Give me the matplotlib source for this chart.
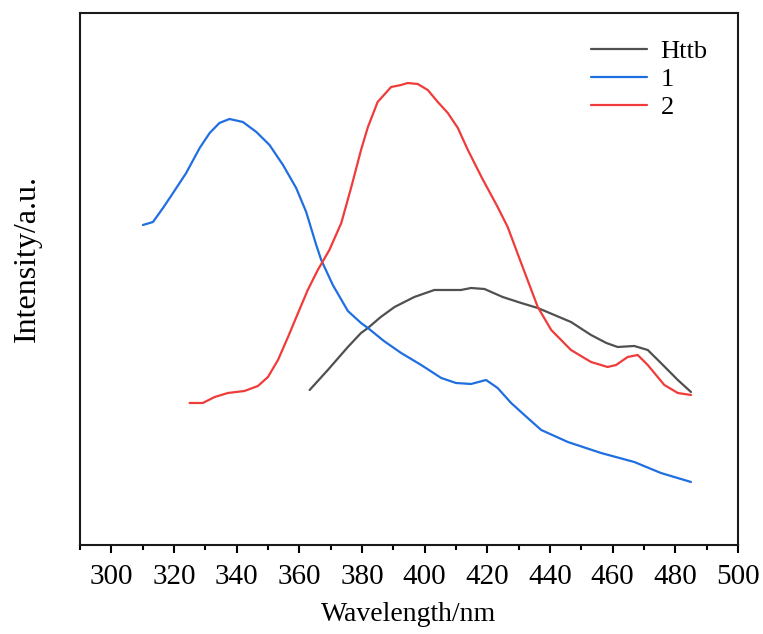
import matplotlib
matplotlib.use("Agg")
import matplotlib.pyplot as plt
from matplotlib.ticker import MultipleLocator

# Emission spectra (intensity in arbitrary units)
httb_x = [363.3, 369.1, 375.5, 379.7, 381.9, 386.0, 390.4, 396.7, 403.1, 411.6,
          414.8, 419.1, 424.9, 430.8, 436.1, 441.4, 446.7, 453.1, 458.0, 461.6,
          466.9, 471.2, 475.4, 480.8, 485.0]
httb_y = [155, 175, 198, 212, 217, 228, 238, 248, 255, 255,
          257, 256, 248, 242, 237, 230, 223, 210, 202, 198,
          199, 195, 182, 165, 153]

c1_x = [310.1, 313.3, 316.5, 319.7, 323.9, 328.2, 331.4, 334.5, 337.7, 342.0,
        346.3, 350.5, 354.8, 359.0, 362.2, 365.4, 367.0, 370.7, 375.5,
        379.7, 381.9, 387.0, 392.5, 398.9, 405.3, 410.0, 414.8, 419.6, 423.3,
        427.6, 432.9, 437.2, 445.7, 456.3, 466.9, 475.4, 485.0]
c1_y = [320, 323, 337, 352, 372, 397, 412, 422, 426, 423,
        413, 400, 380, 357, 333, 300, 285, 260, 234,
        222, 217, 204, 192, 180, 167, 162, 161, 165, 157,
        142, 127, 115, 103, 92, 83, 72, 63]

c2_x = [325.0, 329.2, 333.0, 337.2, 342.5, 346.8, 350.0, 353.2, 356.4, 359.6,
        362.7, 365.9, 369.6, 373.4, 376.6, 379.7, 381.9, 385.0, 389.3, 392.5,
        394.6, 397.8, 401.0, 404.2, 407.4, 410.6, 413.8, 418.3, 423.3, 426.5,
        430.8, 436.1, 440.4, 446.7, 453.1, 458.4, 461.1, 464.8, 468.0, 471.2,
        476.5, 480.8, 485.0]
c2_y = [142, 142, 148, 152, 154, 159, 168, 185, 208, 232,
        255, 275, 295, 322, 358, 395, 418, 443, 458, 460,
        462, 461, 455, 443, 432, 417, 395, 367, 338, 318,
        282, 238, 215, 195, 183, 178, 180, 188, 190, 180,
        160, 152, 150]

plt.rcParams["font.family"] = ["Liberation Serif", "DejaVu Serif"]

fig = plt.figure(figsize=(7.63, 6.34), dpi=100)
ax = fig.add_axes([0.1048, 0.1404, 0.8624, 0.8391])

style = dict(linewidth=1.6, solid_joinstyle="round", solid_capstyle="round")
ax.plot(httb_x, httb_y, color="#505050", label="Httb", **style)
ax.plot(c1_x, c1_y, color="#1f6fe0", label="1", **style)
ax.plot(c2_x, c2_y, color="#f03b3b", label="2", **style)

ax.set_xlim(290, 500)
ax.set_ylim(0, 532)
ax.xaxis.set_major_locator(MultipleLocator(20))
ax.xaxis.set_minor_locator(MultipleLocator(10))
ax.set_xticks(range(300, 501, 20))
ax.set_yticks([])
ax.tick_params(axis="x", which="major", direction="out", length=6, width=1.5,
               labelsize=21, pad=8)
ax.tick_params(axis="x", which="minor", direction="out", length=3.5, width=1.5)
for s in ax.spines.values():
    s.set_linewidth(1.5)
    s.set_color("#1a1a1a")

ax.set_xlabel("Wavelength/nm", fontsize=20, labelpad=8)
ax.set_ylabel("Intensity/a.u.", fontsize=23)
ax.yaxis.set_label_coords(-0.058, 0.5385)

ax.legend(loc="upper right", bbox_to_anchor=(0.99, 0.995), frameon=False,
          fontsize=19, handlelength=2.15, handletextpad=0.5, labelspacing=0.17)

fig.savefig("out.png", dpi=100)
